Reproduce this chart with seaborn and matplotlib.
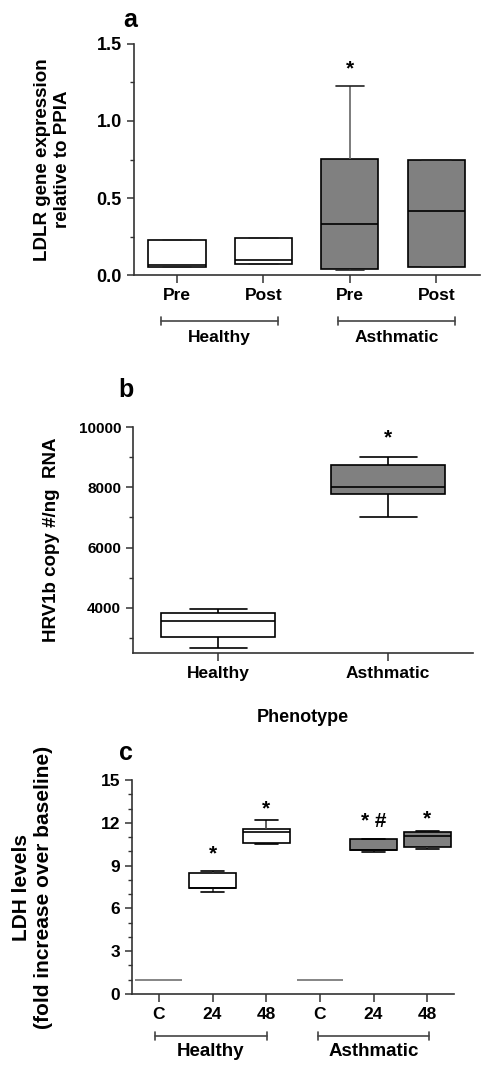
import numpy as np
import pandas as pd
import matplotlib.pyplot as plt
import seaborn as sns

# panel a: LDLR expression, five-number summaries
a_group = ["Healthy", "Healthy", "Asthmatic", "Asthmatic"]
a_time = ["Pre", "Post", "Pre", "Post"]
a_min = [0.05, 0.071, 0.03, 0.05]
a_q1 = [0.05, 0.071, 0.039, 0.05]
a_med = [0.067, 0.10, 0.329, 0.416]
a_q3 = [0.229, 0.238, 0.755, 0.749]
a_max = [0.229, 0.238, 1.227, 0.749]
a_star = ["", "", "*", ""]
a_star_y = [0, 0, 1.34, 0]

# panel b: HRV1b copies
b_group = ["Healthy", "Asthmatic"]
b_min = [2667, 7004]
b_q1 = [3031, 7787]
b_med = [3560, 8007]
b_q3 = [3824, 8734]
b_max = [3967, 8998]
b_star = ["", "*"]
b_star_y = [0, 9650]

# panel c: LDH levels
c_group = ["Healthy", "Healthy", "Healthy", "Asthmatic", "Asthmatic", "Asthmatic"]
c_time = ["C", "24", "48", "C", "24", "48"]
c_min = [1.0, 7.17, 10.50, 1.0, 9.93, 10.14]
c_q1 = [1.0, 7.41, 10.56, 1.0, 10.09, 10.28]
c_med = [1.0, 7.43, 11.33, 1.0, 10.10, 11.07]
c_q3 = [1.0, 8.50, 11.54, 1.0, 10.88, 11.35]
c_max = [1.0, 8.62, 12.19, 1.0, 10.88, 11.42]
c_star = ["", "*", "*", "", "* #", "*"]
c_star_y = [0, 9.81, 12.96, 0, 12.12, 12.26]

palette = {"Healthy": "white", "Asthmatic": "#808080"}


def long_table(groups, times, mins, q1s, meds, q3s, maxs):
    rows = []
    for i, g in enumerate(groups):
        cond = f"{g} {times[i]}" if times else g
        for v in (mins[i], q1s[i], meds[i], q3s[i], maxs[i]):
            rows.append({"cond": cond, "group": g, "value": v})
    return pd.DataFrame(rows)


def bracket(ax, x0, x1, y, text, ty, size):
    tr = ax.get_xaxis_transform()
    ax.plot([x0, x1], [y, y], color="#444444", lw=1.2, transform=tr, clip_on=False)
    for x in (x0, x1):
        ax.plot([x, x], [y - 0.018, y + 0.018], color="#444444", lw=1.2,
                transform=tr, clip_on=False)
    ax.text((x0 + x1) / 2, ty, text, transform=tr, ha="center", va="center",
            fontsize=size, fontweight="bold")


sns.set_style("ticks")
plt.rcParams["font.family"] = ["Liberation Sans", "DejaVu Sans"]
plt.rcParams["font.weight"] = "bold"
plt.rcParams["axes.labelweight"] = "bold"
plt.rcParams["text.color"] = "black"
plt.rcParams["axes.labelcolor"] = "black"
plt.rcParams["xtick.labelcolor"] = "black"
plt.rcParams["ytick.labelcolor"] = "black"

fig = plt.figure(figsize=(4.83, 10.73), dpi=100)
ax_a = fig.add_axes([0.277, 0.7437, 0.716, 0.2153])
ax_b = fig.add_axes([0.2754, 0.3914, 0.704, 0.2106])
ax_c = fig.add_axes([0.2733, 0.0736, 0.6667, 0.1994])

box_kw = dict(whis=(0, 100), dodge=False, legend=False, showfliers=False,
              palette=palette, linecolor="black", linewidth=1.2)

# ---- panel a
df_a = long_table(a_group, a_time, a_min, a_q1, a_med, a_q3, a_max)
order_a = [f"{g} {t}" for g, t in zip(a_group, a_time)]
sns.boxplot(data=df_a, x="cond", y="value", hue="group", order=order_a,
            ax=ax_a, width=0.66, whiskerprops=dict(color="#666666"),
            capprops=dict(color="#222222"), **box_kw)
for i, s in enumerate(a_star):
    if s:
        ax_a.text(i, a_star_y[i], s, ha="center", va="center", fontsize=15)
ax_a.set_ylim(0, 1.5)
ax_a.set_xlim(-0.5, 3.5)
ax_a.set_yticks([0, 0.5, 1.0, 1.5])
ax_a.set_yticklabels(["0.0", "0.5", "1.0", "1.5"], fontsize=13)
ax_a.set_yticks([0.25, 0.75, 1.25], minor=True)
ax_a.set_xticks(range(4))
ax_a.set_xticklabels(a_time, fontsize=12.5)
ax_a.set_xlabel("")
ax_a.set_ylabel("LDLR gene expression\nrelative to PPIA", fontsize=13.5)
ax_a.yaxis.set_label_coords(-0.182, 0.5)
bracket(ax_a, -0.185, 1.17, -0.199, "Healthy", -0.27, 12.5)
bracket(ax_a, 1.86, 3.22, -0.199, "Asthmatic", -0.27, 12.5)
ax_a.text(-0.01, 1.105, "a", transform=ax_a.transAxes, fontsize=18,
          ha="center", va="center")

# ---- panel b
df_b = long_table(b_group, None, b_min, b_q1, b_med, b_q3, b_max)
sns.boxplot(data=df_b, x="cond", y="value", hue="group", order=b_group,
            ax=ax_b, width=0.67, **box_kw)
for i, s in enumerate(b_star):
    if s:
        ax_b.text(i, b_star_y[i], s, ha="center", va="center", fontsize=15)
ax_b.set_ylim(2500, 10000)
ax_b.set_xlim(-0.5, 1.5)
ax_b.set_yticks([4000, 6000, 8000, 10000])
ax_b.set_yticks([3000, 5000, 7000, 9000], minor=True)
ax_b.tick_params(axis="y", labelsize=11)
ax_b.tick_params(axis="x", labelsize=12.5)
ax_b.set_xlabel("Phenotype", fontsize=13, labelpad=20)
ax_b.set_ylabel("HRV1b copy #/ng  RNA", fontsize=13.5)
ax_b.yaxis.set_label_coords(-0.215, 0.5)
ax_b.text(-0.02, 1.164, "b", transform=ax_b.transAxes, fontsize=18,
          ha="center", va="center")

# ---- panel c
df_c = long_table(c_group, c_time, c_min, c_q1, c_med, c_q3, c_max)
order_c = [f"{g} {t}" for g, t in zip(c_group, c_time)]
is_ctrl = df_c["cond"].str.endswith(" C")
sns.boxplot(data=df_c[~is_ctrl], x="cond", y="value", hue="group",
            order=order_c, ax=ax_c, width=0.87,
            whiskerprops=dict(color="#444444"), **box_kw)
sns.boxplot(data=df_c[is_ctrl], x="cond", y="value", order=order_c, ax=ax_c,
            width=0.87, whis=(0, 100), showfliers=False, color="#888888",
            linecolor="#888888", linewidth=1.4)
for i, s in enumerate(c_star):
    if s:
        ax_c.text(i, c_star_y[i], s, ha="center", va="center", fontsize=15)
ax_c.set_ylim(0, 15)
ax_c.set_xlim(-0.5, 5.5)
ax_c.set_yticks(range(0, 16, 3))
ax_c.set_yticks([v for v in range(16) if v % 3], minor=True)
ax_c.tick_params(axis="y", labelsize=12.5)
ax_c.set_xticks(range(6))
ax_c.set_xticklabels(c_time, fontsize=12.5)
ax_c.set_xlabel("")
ax_c.set_ylabel("LDH levels\n(fold increase over baseline)", fontsize=15)
ax_c.yaxis.set_label_coords(-0.245, 0.5)
bracket(ax_c, -0.08, 2.02, -0.196, "Healthy", -0.27, 13.5)
bracket(ax_c, 2.96, 5.04, -0.196, "Asthmatic", -0.27, 13.5)
ax_c.text(-0.02, 1.126, "c", transform=ax_c.transAxes, fontsize=18,
          ha="center", va="center")

for ax in (ax_a, ax_b, ax_c):
    sns.despine(ax=ax)
    for sp in ("left", "bottom"):
        ax.spines[sp].set_linewidth(1.2)
        ax.spines[sp].set_color("#333333")
    ax.tick_params(which="major", length=5, width=1.1, color="#333333")
    ax.tick_params(which="minor", length=3, width=1.0, color="#333333")
    ax.tick_params(axis="x", length=6)

fig.savefig("out.png", dpi=100)
